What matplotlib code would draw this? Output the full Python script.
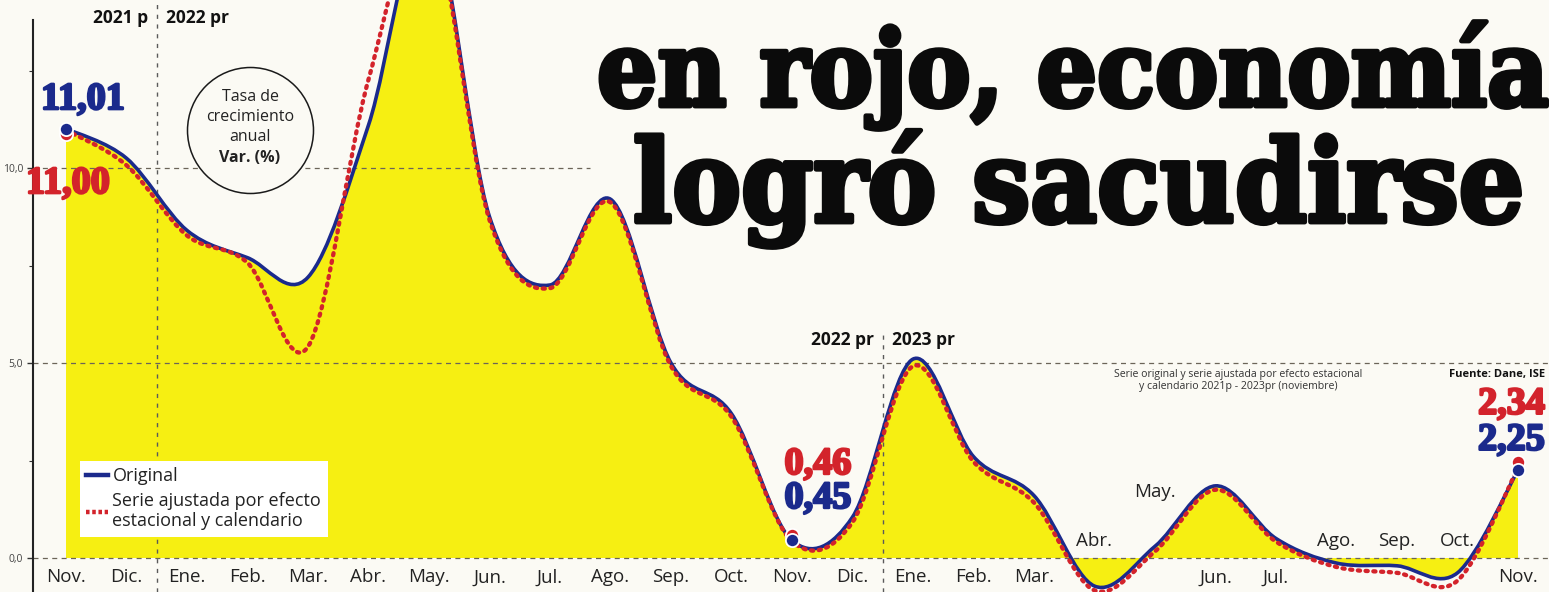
import numpy as np
import matplotlib
matplotlib.use("Agg")
import matplotlib.pyplot as plt
from matplotlib.path import Path
from matplotlib.patches import PathPatch
from matplotlib.lines import Line2D
import matplotlib.transforms as mtransforms
import matplotlib.patheffects as pe

# ---------------- data ----------------
months = ["Nov.", "Dic.", "Ene.", "Feb.", "Mar.", "Abr.", "May.", "Jun.", "Jul.",
          "Ago.", "Sep.", "Oct.", "Nov.", "Dic.", "Ene.", "Feb.", "Mar.", "Abr.",
          "May.", "Jun.", "Jul.", "Ago.", "Sep.", "Oct.", "Nov."]
original = [11.01, 10.25, 8.40, 7.70, 7.20, 11.10, 16.50, 8.75, 7.00, 9.20, 5.00,
            3.70, 0.45, 1.05, 5.10, 2.60, 1.60, -0.72, 0.30, 1.85, 0.50, -0.13,
            -0.20, -0.38, 2.25]
adjusted = [11.00, 10.10, 8.30, 7.60, 5.45, 12.30, 16.50, 8.70, 6.95, 9.15, 4.95,
            3.65, 0.46, 0.95, 4.95, 2.50, 1.45, -0.80, 0.20, 1.78, 0.45, -0.20,
            -0.35, -0.55, 2.34]
labelled_idx = [0, 12, 24]
orig_labels = ["11,01", "0,45", "2,25"]
adj_labels = ["11,00", "0,46", "2,34"]
year_split = [1.5, 13.5]
y_ticks = [0, 5, 10]
y_ticklabels = ["0,0", "5,0", "10,0"]

# ---------------- style ----------------
W, H = 1549, 592
PAPER = "#fbfaf4"
YELLOW = "#f6ef12"
BLUE = "#1b2a8c"
RED = "#d3232b"
DARK = "#222222"
SANS = ["Open Sans", "DejaVu Sans"]

fig = plt.figure(figsize=(W / 100, H / 100), dpi=100, facecolor=PAPER)
ax = fig.add_axes([33 / W, 0, 1 - 33 / W, 1])
ax.set_facecolor(PAPER)
ax.set_xlim((33 - 66) / 60.5, (W - 66) / 60.5)
ax.set_ylim((558 - H) / 39, 558 / 39)

x = np.arange(len(months), dtype=float)


def smooth_path(xs, ys):
    pts = np.column_stack([xs, ys]).astype(float)
    ext = np.vstack([pts[0], pts, pts[-1]])
    verts = [pts[0]]
    codes = [Path.MOVETO]
    for k in range(len(pts) - 1):
        p0, p1, p2, p3 = ext[k], ext[k + 1], ext[k + 2], ext[k + 3]
        verts += [p1 + (p2 - p0) / 6, p2 - (p3 - p1) / 6, p2]
        codes += [Path.CURVE4] * 3
    return verts, codes


# fill under original series
v_o, c_o = smooth_path(x, original)
fill_verts = v_o + [(x[-1], 0), (x[0], 0), (x[0], 0)]
fill_codes = c_o + [Path.LINETO, Path.LINETO, Path.CLOSEPOLY]
ax.add_patch(PathPatch(Path(fill_verts, fill_codes), facecolor=YELLOW,
                       edgecolor="none", zorder=1))

# grid lines
for yv in y_ticks:
    xmax = 1.0 if yv != 10 else (590 - 33) / (W - 33)
    ax.axhline(yv, xmin=0, xmax=xmax, color="#6b6458", lw=0.9,
               dashes=(4, 3.5), zorder=2)

# year separators
ax.axvline(year_split[0], color="#5a5a5a", lw=1.0, dashes=(3, 4), zorder=2)
ax.axvline(year_split[1], ymin=0, ymax=(H - 330) / H, color="#5a5a5a",
           lw=1.0, dashes=(3, 4), zorder=2)

# series lines
ax.add_patch(PathPatch(Path(v_o, c_o), facecolor="none", edgecolor=BLUE,
                       lw=2.6, zorder=4, capstyle="round"))
v_a, c_a = smooth_path(x, adjusted)
red_shift = ax.transData + mtransforms.ScaledTranslation(0, -1.2 / 100,
                                                         fig.dpi_scale_trans)
ax.add_patch(PathPatch(Path(v_a, c_a), facecolor="none", edgecolor=RED,
                       lw=3.1, linestyle=(0, (0.5, 1.3)), capstyle="round",
                       zorder=5, transform=red_shift))

# end / key markers
for k, i in enumerate(labelled_idx):
    sgn = np.sign(adjusted[i] - original[i])
    off = mtransforms.ScaledTranslation(0, sgn * 5 / 100, fig.dpi_scale_trans)
    ax.plot(x[i], adjusted[i], "o", ms=9.5, mfc=RED, mec="white", mew=1.3,
            zorder=6, transform=ax.transData + off)
    ax.plot(x[i], original[i], "o", ms=9.5, mfc=BLUE, mec="white", mew=1.3,
            zorder=7)

# value labels
num_font = dict(family=["Liberation Serif", "DejaVu Serif"], weight="bold",
                fontsize=27.5)
stroke_b = [pe.withStroke(linewidth=1.8, foreground=BLUE)]
stroke_r = [pe.withStroke(linewidth=1.8, foreground=RED)]
orig_offsets = [(17, 29, "center"), (26, 42, "center"), (27, 30, "right")]
adj_offsets = [(2, -55, "center"), (26, 76, "center"), (27, 66, "right")]
for k, i in enumerate(labelled_idx):
    dx, dy, ha = orig_offsets[k]
    ax.annotate(orig_labels[k], (x[i], original[i]), xytext=(dx, dy),
                textcoords="offset pixels", ha=ha, va="center", color=BLUE,
                path_effects=stroke_b, zorder=9, **num_font)
    dx, dy, ha = adj_offsets[k]
    ax.annotate(adj_labels[k], (x[i], original[i]), xytext=(dx, dy),
                textcoords="offset pixels", ha=ha, va="center", color=RED,
                path_effects=stroke_r, zorder=9, **num_font)

# month labels
raised = {17: 0.44, 18: 1.69, 21: 0.44, 22: 0.44, 23: 0.44}
for i, m in enumerate(months):
    ax.text(x[i], raised.get(i, -0.5), m, ha="center", va="center",
            fontsize=13.5, color=DARK, family=SANS, zorder=8)

# year labels
year_font = dict(family=SANS, weight="bold", fontsize=12.5, color="#111111")
ax.annotate("2021 p", (year_split[0], (558 - 18) / 39), xytext=(-9, 0),
            textcoords="offset pixels", ha="right", va="center", **year_font)
ax.annotate("2022 pr", (year_split[0], (558 - 18) / 39), xytext=(9, 0),
            textcoords="offset pixels", ha="left", va="center", **year_font)
ax.annotate("2022 pr", (year_split[1], (558 - 340) / 39), xytext=(-9, 0),
            textcoords="offset pixels", ha="right", va="center", **year_font)
ax.annotate("2023 pr", (year_split[1], (558 - 340) / 39), xytext=(9, 0),
            textcoords="offset pixels", ha="left", va="center", **year_font)

# circle note
cx, cy = (250 - 66) / 60.5, (558 - 130) / 39
ax.scatter([cx], [cy], s=(126 * 0.72) ** 2, facecolor=PAPER,
           edgecolor="#1a1a1a", lw=1.1, zorder=3)
for txt, dy, wt in [("Tasa de", 33, "normal"), ("crecimiento", 13, "normal"),
                    ("anual", -7, "normal"), ("Var. (%)", -28, "bold")]:
    ax.annotate(txt, (cx, cy), xytext=(0, dy), textcoords="offset pixels",
                ha="center", va="center", fontsize=11.5, family=SANS,
                weight=wt, color=DARK, zorder=4)

# source & subtitle
fig.text(1238 / W, 1 - 375 / H, "Serie original y serie ajustada por efecto estacional",
         ha="center", va="center", fontsize=7.6, family=SANS, color="#333333")
fig.text(1238 / W, 1 - 386 / H, "y calendario 2021p - 2023pr (noviembre)",
         ha="center", va="center", fontsize=7.6, family=SANS, color="#333333")
fig.text(1545 / W, 1 - 375 / H, "Fuente: Dane, ISE", ha="right", va="center",
         fontsize=8, family=SANS, weight="bold", color="#111111")

# legend
handles = [Line2D([], [], color=BLUE, lw=3.2),
           Line2D([], [], color=RED, lw=3.2, linestyle=(0, (0.8, 0.6)))]
leg = ax.legend(handles, ["Original", "Serie ajustada por efecto\nestacional y calendario"],
                loc="upper left", bbox_to_anchor=(80 / W, 1 - 461 / H),
                bbox_transform=fig.transFigure, frameon=True, facecolor="white",
                edgecolor="none", fancybox=False, framealpha=1,
                handlelength=1.2, handletextpad=0.25, borderpad=0.35,
                labelspacing=0.35, borderaxespad=0,
                prop=dict(family=SANS, size=13))
for t in leg.get_texts():
    t.set_color(DARK)
leg.set_zorder(10)

# headline
head_font = dict(family=["DejaVu Serif"], weight="bold", stretch="condensed",
                 color="#0b0b0b", fontsize=80)
h1 = fig.text(597 / W, 1 - 106 / H, "en rojo, economía", ha="left",
              va="baseline", path_effects=[pe.withStroke(linewidth=3.5, foreground="#0b0b0b")],
              **head_font)
h2 = fig.text(633 / W, 1 - 222 / H, "logró sacudirse", ha="left",
              va="baseline", path_effects=[pe.withStroke(linewidth=3.5, foreground="#0b0b0b")],
              **head_font)
fig.canvas.draw()
r = fig.canvas.get_renderer()
for t, target in [(h1, 1549 - 597), (h2, 1525 - 633)]:
    w = t.get_window_extent(r).width
    t.set_fontsize(t.get_fontsize() * target / w)

# y axis
for s in ["top", "right", "bottom"]:
    ax.spines[s].set_visible(False)
ax.spines["left"].set_color("#222222")
ax.spines["left"].set_linewidth(1.5)
ax.spines["left"].set_bounds((558 - H) / 39, (558 - 20) / 39)
ax.set_xticks([])
ax.set_yticks(y_ticks)
ax.set_yticklabels(y_ticklabels, family=SANS, fontsize=7.5, color="#444444")
ax.set_yticks([2.5, 7.5, 12.5], minor=True)
ax.tick_params(axis="y", which="major", length=4, width=1, color="#333333", pad=3)
ax.tick_params(axis="y", which="minor", length=3, width=0.8, color="#333333")

fig.savefig("out.png", dpi=100, facecolor=PAPER)
